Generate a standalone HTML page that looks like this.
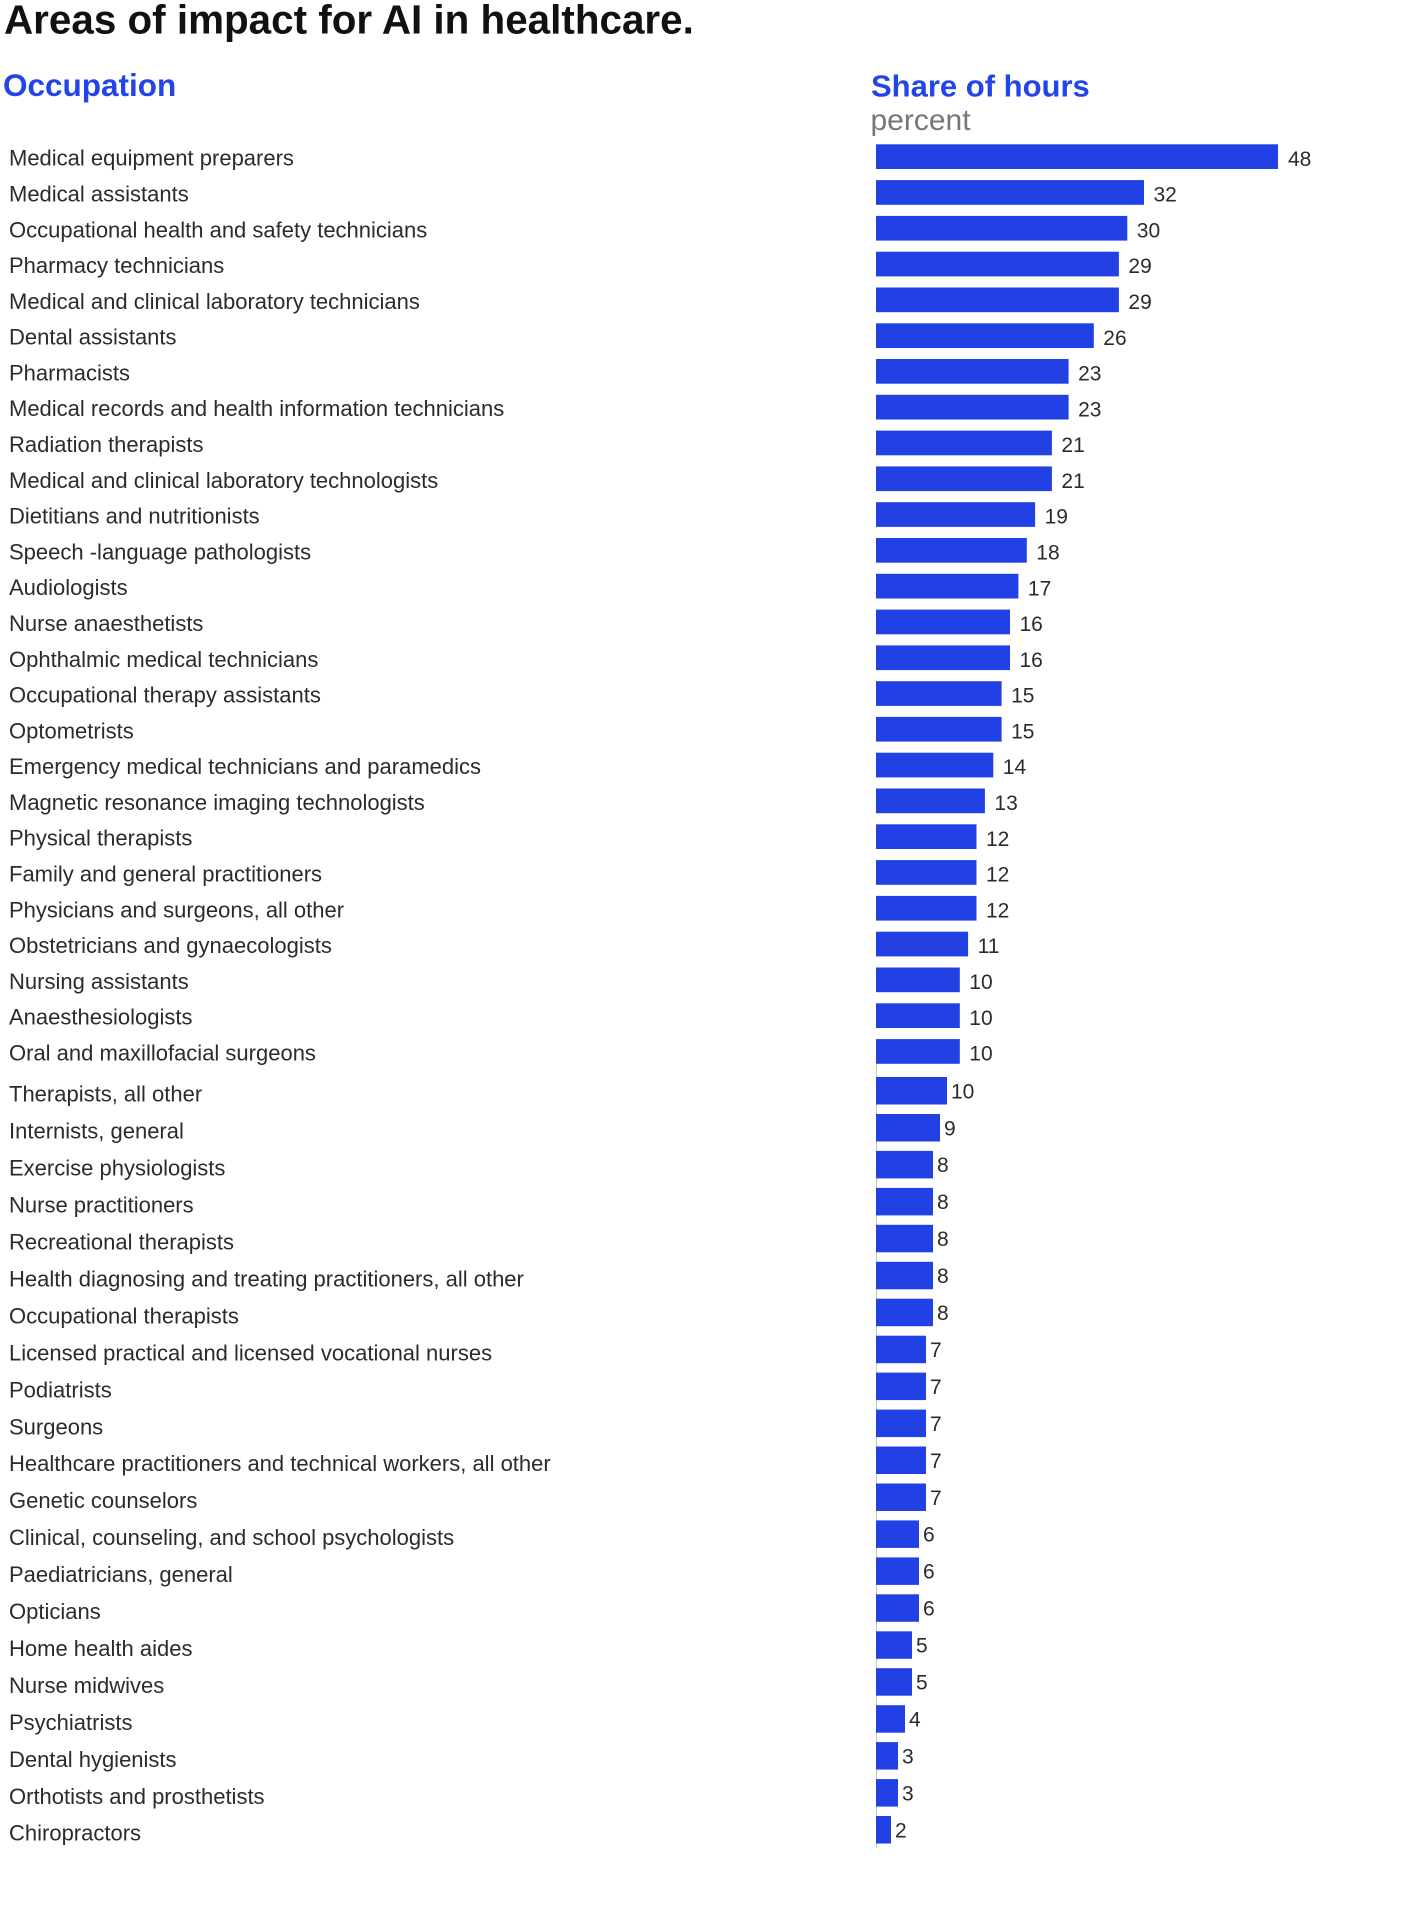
<!DOCTYPE html>
<html>
<head>
<meta charset="utf-8">
<style>
html,body{margin:0;padding:0;background:#fff;}
svg{display:block;}
text{font-family:"Liberation Sans",Arial,sans-serif;}
.lab{font-size:22px;fill:#2b2b2b;}
.val{font-size:21px;fill:#2b2b2b;}
</style>
</head>
<body>
<svg width="1408" height="1913" viewBox="0 0 1408 1913" xmlns="http://www.w3.org/2000/svg">
<rect width="1408" height="1913" fill="#fff"/>
<text x="4" y="33.5" style="font-size:40.4px;font-weight:bold;fill:#111;">Areas of impact for AI in healthcare.</text>
<text x="3" y="96" style="font-size:31.5px;font-weight:bold;fill:#2344e8;">Occupation</text>
<text x="871" y="96.7" style="font-size:31px;font-weight:bold;fill:#2344e8;">Share of hours</text>
<text x="870.5" y="130" style="font-size:30px;fill:#777;">percent</text>
<line x1="876.5" y1="1064" x2="876.5" y2="1848" stroke="#c4c4c4" stroke-width="1"/>
<!-- top section rows -->
<text class="lab" x="9" y="165.7">Medical equipment preparers</text><rect x="876" y="144.3" width="402" height="24.7" fill="#2241e5"/><text class="val" x="1288" y="165.8">48</text>
<text class="lab" x="9" y="201.5">Medical assistants</text><rect x="876" y="180.1" width="268" height="24.7" fill="#2241e5"/><text class="val" x="1153.5" y="201.6">32</text>
<text class="lab" x="9" y="237.3">Occupational health and safety technicians</text><rect x="876" y="215.9" width="251.3" height="24.7" fill="#2241e5"/><text class="val" x="1136.8" y="237.4">30</text>
<text class="lab" x="9" y="273.1">Pharmacy technicians</text><rect x="876" y="251.7" width="242.9" height="24.7" fill="#2241e5"/><text class="val" x="1128.4" y="273.2">29</text>
<text class="lab" x="9" y="308.9">Medical and clinical laboratory technicians</text><rect x="876" y="287.5" width="242.9" height="24.7" fill="#2241e5"/><text class="val" x="1128.4" y="309.0">29</text>
<text class="lab" x="9" y="344.7">Dental assistants</text><rect x="876" y="323.3" width="217.8" height="24.7" fill="#2241e5"/><text class="val" x="1103.3" y="344.8">26</text>
<text class="lab" x="9" y="380.4">Pharmacists</text><rect x="876" y="359.0" width="192.6" height="24.7" fill="#2241e5"/><text class="val" x="1078.1" y="380.5">23</text>
<text class="lab" x="9" y="416.2">Medical records and health information technicians</text><rect x="876" y="394.8" width="192.6" height="24.7" fill="#2241e5"/><text class="val" x="1078.1" y="416.3">23</text>
<text class="lab" x="9" y="452.0">Radiation therapists</text><rect x="876" y="430.6" width="175.9" height="24.7" fill="#2241e5"/><text class="val" x="1061.4" y="452.1">21</text>
<text class="lab" x="9" y="487.8">Medical and clinical laboratory technologists</text><rect x="876" y="466.4" width="175.9" height="24.7" fill="#2241e5"/><text class="val" x="1061.4" y="487.9">21</text>
<text class="lab" x="9" y="523.6">Dietitians and nutritionists</text><rect x="876" y="502.2" width="159.1" height="24.7" fill="#2241e5"/><text class="val" x="1044.6" y="523.7">19</text>
<text class="lab" x="9" y="559.4">Speech -language pathologists</text><rect x="876" y="538.0" width="150.8" height="24.7" fill="#2241e5"/><text class="val" x="1036.3" y="559.5">18</text>
<text class="lab" x="9" y="595.2">Audiologists</text><rect x="876" y="573.8" width="142.4" height="24.7" fill="#2241e5"/><text class="val" x="1027.9" y="595.3">17</text>
<text class="lab" x="9" y="631.0">Nurse anaesthetists</text><rect x="876" y="609.6" width="134" height="24.7" fill="#2241e5"/><text class="val" x="1019.5" y="631.1">16</text>
<text class="lab" x="9" y="666.8">Ophthalmic medical technicians</text><rect x="876" y="645.4" width="134" height="24.7" fill="#2241e5"/><text class="val" x="1019.5" y="666.9">16</text>
<text class="lab" x="9" y="702.6">Occupational therapy assistants</text><rect x="876" y="681.2" width="125.6" height="24.7" fill="#2241e5"/><text class="val" x="1011.1" y="702.7">15</text>
<text class="lab" x="9" y="738.3">Optometrists</text><rect x="876" y="716.9" width="125.6" height="24.7" fill="#2241e5"/><text class="val" x="1011.1" y="738.4">15</text>
<text class="lab" x="9" y="774.1">Emergency medical technicians and paramedics</text><rect x="876" y="752.7" width="117.3" height="24.7" fill="#2241e5"/><text class="val" x="1002.8" y="774.2">14</text>
<text class="lab" x="9" y="809.9">Magnetic resonance imaging technologists</text><rect x="876" y="788.5" width="108.9" height="24.7" fill="#2241e5"/><text class="val" x="994.4" y="810.0">13</text>
<text class="lab" x="9" y="845.7">Physical therapists</text><rect x="876" y="824.3" width="100.5" height="24.7" fill="#2241e5"/><text class="val" x="986" y="845.8">12</text>
<text class="lab" x="9" y="881.5">Family and general practitioners</text><rect x="876" y="860.1" width="100.5" height="24.7" fill="#2241e5"/><text class="val" x="986" y="881.6">12</text>
<text class="lab" x="9" y="917.3">Physicians and surgeons, all other</text><rect x="876" y="895.9" width="100.5" height="24.7" fill="#2241e5"/><text class="val" x="986" y="917.4">12</text>
<text class="lab" x="9" y="953.1">Obstetricians and gynaecologists</text><rect x="876" y="931.7" width="92.1" height="24.7" fill="#2241e5"/><text class="val" x="977.6" y="953.2">11</text>
<text class="lab" x="9" y="988.9">Nursing assistants</text><rect x="876" y="967.5" width="83.8" height="24.7" fill="#2241e5"/><text class="val" x="969.3" y="989.0">10</text>
<text class="lab" x="9" y="1024.7">Anaesthesiologists</text><rect x="876" y="1003.3" width="83.8" height="24.7" fill="#2241e5"/><text class="val" x="969.3" y="1024.8">10</text>
<text class="lab" x="9" y="1060.5">Oral and maxillofacial surgeons</text><rect x="876" y="1039.1" width="83.8" height="24.7" fill="#2241e5"/><text class="val" x="969.3" y="1060.6">10</text>
<!-- bottom section rows -->
<text class="lab" x="9" y="1101.7">Therapists, all other</text><rect x="876" y="1077.0" width="71" height="27.5" fill="#2241e5"/><text class="val" x="951" y="1098.3">10</text>
<text class="lab" x="9" y="1138.7">Internists, general</text><rect x="876" y="1114.0" width="64" height="27.5" fill="#2241e5"/><text class="val" x="944" y="1135.3">9</text>
<text class="lab" x="9" y="1175.6">Exercise physiologists</text><rect x="876" y="1150.9" width="57" height="27.5" fill="#2241e5"/><text class="val" x="937" y="1172.2">8</text>
<text class="lab" x="9" y="1212.6">Nurse practitioners</text><rect x="876" y="1187.9" width="57" height="27.5" fill="#2241e5"/><text class="val" x="937" y="1209.2">8</text>
<text class="lab" x="9" y="1249.5">Recreational therapists</text><rect x="876" y="1224.8" width="57" height="27.5" fill="#2241e5"/><text class="val" x="937" y="1246.1">8</text>
<text class="lab" x="9" y="1286.5">Health diagnosing and treating practitioners, all other</text><rect x="876" y="1261.8" width="57" height="27.5" fill="#2241e5"/><text class="val" x="937" y="1283.1">8</text>
<text class="lab" x="9" y="1323.4">Occupational therapists</text><rect x="876" y="1298.7" width="57" height="27.5" fill="#2241e5"/><text class="val" x="937" y="1320.0">8</text>
<text class="lab" x="9" y="1360.4">Licensed practical and licensed vocational nurses</text><rect x="876" y="1335.7" width="50" height="27.5" fill="#2241e5"/><text class="val" x="930" y="1357.0">7</text>
<text class="lab" x="9" y="1397.3">Podiatrists</text><rect x="876" y="1372.6" width="50" height="27.5" fill="#2241e5"/><text class="val" x="930" y="1393.9">7</text>
<text class="lab" x="9" y="1434.3">Surgeons</text><rect x="876" y="1409.6" width="50" height="27.5" fill="#2241e5"/><text class="val" x="930" y="1430.9">7</text>
<text class="lab" x="9" y="1471.2">Healthcare practitioners and technical workers, all other</text><rect x="876" y="1446.5" width="50" height="27.5" fill="#2241e5"/><text class="val" x="930" y="1467.8">7</text>
<text class="lab" x="9" y="1508.2">Genetic counselors</text><rect x="876" y="1483.5" width="50" height="27.5" fill="#2241e5"/><text class="val" x="930" y="1504.8">7</text>
<text class="lab" x="9" y="1545.1">Clinical, counseling, and school psychologists</text><rect x="876" y="1520.4" width="43" height="27.5" fill="#2241e5"/><text class="val" x="923" y="1541.7">6</text>
<text class="lab" x="9" y="1582.1">Paediatricians, general</text><rect x="876" y="1557.4" width="43" height="27.5" fill="#2241e5"/><text class="val" x="923" y="1578.7">6</text>
<text class="lab" x="9" y="1619.0">Opticians</text><rect x="876" y="1594.3" width="43" height="27.5" fill="#2241e5"/><text class="val" x="923" y="1615.6">6</text>
<text class="lab" x="9" y="1656.0">Home health aides</text><rect x="876" y="1631.3" width="36" height="27.5" fill="#2241e5"/><text class="val" x="916" y="1652.6">5</text>
<text class="lab" x="9" y="1692.9">Nurse midwives</text><rect x="876" y="1668.2" width="36" height="27.5" fill="#2241e5"/><text class="val" x="916" y="1689.5">5</text>
<text class="lab" x="9" y="1729.9">Psychiatrists</text><rect x="876" y="1705.2" width="29" height="27.5" fill="#2241e5"/><text class="val" x="909" y="1726.5">4</text>
<text class="lab" x="9" y="1766.8">Dental hygienists</text><rect x="876" y="1742.1" width="22" height="27.5" fill="#2241e5"/><text class="val" x="902" y="1763.4">3</text>
<text class="lab" x="9" y="1803.8">Orthotists and prosthetists</text><rect x="876" y="1779.1" width="22" height="27.5" fill="#2241e5"/><text class="val" x="902" y="1800.4">3</text>
<text class="lab" x="9" y="1840.7">Chiropractors</text><rect x="876" y="1816.0" width="15" height="27.5" fill="#2241e5"/><text class="val" x="895" y="1837.3">2</text>
</svg>
</body>
</html>
